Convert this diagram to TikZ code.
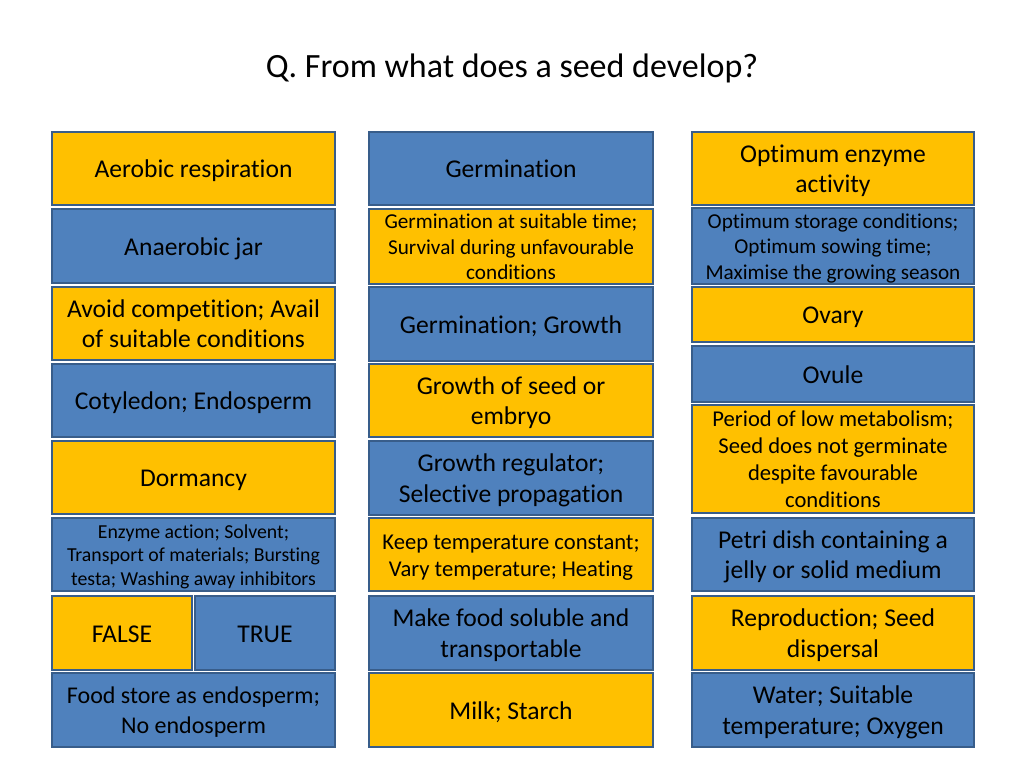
\documentclass[tikz,border=0pt]{standalone}
\usepackage{fontspec}
\setmainfont{Carlito}[Ligatures={NoCommon}]
\definecolor{yel}{HTML}{FFC000}
\definecolor{blu}{HTML}{4F81BD}
\definecolor{edge}{HTML}{385D8A}
\newcommand\sk{\rule[-.22em]{0pt}{1.16em}}
\begin{document}
\begin{tikzpicture}[x=1pt,y=-1pt,
  card/.style={draw=edge, line width=2pt, rectangle, inner sep=0pt, align=center, text=black},
  ycard/.style={card, fill=yel},
  bcard/.style={card, fill=blu},
  big/.style={font=\fontsize{25.6}{30.5}\selectfont},
  mid/.style={font=\fontsize{21.2}{25.5}\selectfont},
  med/.style={font=\fontsize{22.6}{27}\selectfont},
  sml/.style={font=\fontsize{19.8}{23.5}\selectfont},
  fst/.style={font=\fontsize{24}{30}\selectfont}]
\useasboundingbox (0,0) rectangle (1024,768);
\fill[white] (0,0) rectangle (1024,768);
\node[font=\fontsize{34}{40}\selectfont] (title) at (512,68) {Q. From what does a seed develop?};
% left column
\node[ycard,big,minimum width=283,minimum height=73] (L1) at (193.5,168.5) {\sk Aerobic respiration};
\node[bcard,big,minimum width=283,minimum height=74] (L2) at (193.5,246) {\sk Anaerobic jar};
\node[ycard,big,minimum width=283,minimum height=73] (L3) at (193.5,323.5) {\sk Avoid competition; Avail\\\sk of suitable conditions};
\node[bcard,big,minimum width=283,minimum height=73] (L4) at (193.5,400.5) {\sk Cotyledon; Endosperm};
\node[ycard,big,minimum width=283,minimum height=73] (L5) at (193.5,477.5) {\sk Dormancy};
\node[bcard,sml,minimum width=283,minimum height=73] (L6) at (193.5,554.5) {\sk Enzyme action; Solvent;\\\sk Transport of materials; Bursting\\\sk testa; Washing away inhibitors};
\node[ycard,big,minimum width=140,minimum height=74] (L7a) at (122,633) {\sk FALSE};
\node[bcard,big,minimum width=140,minimum height=74] (L7b) at (265,633) {\sk TRUE};
\node[bcard,fst,minimum width=283,minimum height=74] (L8) at (193.5,710) {\sk Food store as endosperm;\\\sk No endosperm};
% middle column
\node[bcard,big,minimum width=284,minimum height=73] (M1) at (511,168.5) {\sk Germination};
\node[ycard,mid,minimum width=284,minimum height=73] (M2) at (511,246.5) {\sk Germination at suitable time;\\\sk Survival during unfavourable\\\sk conditions};
\node[bcard,big,minimum width=284,minimum height=74] (M3) at (511,324) {\sk Germination; Growth};
\node[ycard,big,minimum width=284,minimum height=73] (M4) at (511,400.5) {\sk Growth of seed or\\\sk embryo};
\node[bcard,big,minimum width=284,minimum height=74] (M5) at (511,478) {\sk Growth regulator;\\\sk Selective propagation};
\node[ycard,med,minimum width=284,minimum height=73] (M6) at (511,554.5) {\sk Keep temperature constant;\\\sk Vary temperature; Heating};
\node[bcard,big,minimum width=284,minimum height=74] (M7) at (511,633) {\sk Make food soluble and\\\sk transportable};
\node[ycard,big,minimum width=284,minimum height=74] (M8) at (511,710) {\sk Milk; Starch};
% right column
\node[ycard,big,minimum width=282,minimum height=73] (R1) at (833,168.5) {\sk Optimum enzyme\\\sk activity};
\node[bcard,mid,minimum width=282,minimum height=74] (R2) at (833,246) {\sk Optimum storage conditions;\\\sk Optimum sowing time;\\\sk Maximise the growing season};
\node[ycard,big,minimum width=282,minimum height=55] (R3) at (833,314.5) {\sk Ovary};
\node[bcard,big,minimum width=282,minimum height=56] (R4) at (833,374) {\sk Ovule};
\node[ycard,med,minimum width=282,minimum height=108] (R5) at (833,459) {\sk Period of low metabolism;\\\sk Seed does not germinate\\\sk despite favourable\\\sk conditions};
\node[bcard,big,minimum width=282,minimum height=73] (R6) at (833,554.5) {\sk Petri dish containing a\\\sk jelly or solid medium};
\node[ycard,big,minimum width=282,minimum height=74] (R7) at (833,633) {\sk Reproduction; Seed\\\sk dispersal};
\node[bcard,big,minimum width=282,minimum height=74] (R8) at (833,710) {\sk Water; Suitable\\\sk temperature; Oxygen};
\end{tikzpicture}
\end{document}
